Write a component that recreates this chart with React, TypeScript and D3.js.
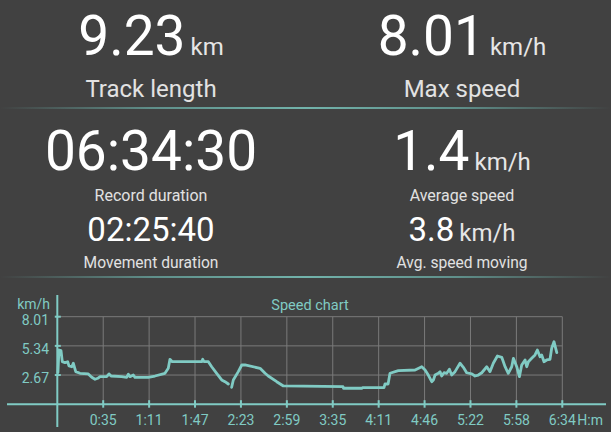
import React, { useEffect } from 'react';
import * as d3 from 'd3';

// ---- Data ----
const minutes = [
  0.5, 1.3, 2.9, 3.9, 6.0, 8.1, 9.1, 11.3, 12.5, 14.4, 17.7, 24.2, 26.9, 29.5, 31.6, 33.4, 38.6, 40.4, 42.0,
  50.3, 54.2, 55.5, 56.8, 59.4, 60.7, 71.1, 76.3, 84.1, 86.7, 88.0, 89.8, 112.8, 113.6, 114.6, 118.0, 120.6,
  124.5, 128.4, 131.0, 133.6, 134.9, 136.2, 137.5, 141.4, 144.1, 146.6, 158.4, 162.3, 164.8, 171.4, 176.6,
  223.2, 223.6, 238.0, 238.4, 255.2, 256.0, 258.4, 259.9, 266.4, 279.5, 284.7, 287.3, 289.8, 292.5, 293.8,
  295.1, 297.7, 299.0, 300.3, 302.1, 304.2, 306.3, 308.1, 310.7, 314.6, 317.2, 319.8, 323.8, 326.3, 328.9,
  331.6, 335.5, 338.0, 340.6, 343.8, 347.2, 349.8, 352.3, 355.0, 356.3, 358.9, 361.0, 362.8, 365.4, 366.7,
  368.0, 370.6, 373.2, 375.0, 377.1, 378.4, 380.2, 382.3, 384.9, 386.2, 388.0, 390.2,
];
const speeds: (number | null)[] = [
  2.9, 4.96, 4.9, 3.89, 3.8, 3.89, 3.5, 3.43, 3.75, 2.98, 2.83, 2.77, 2.46, 2.28, 2.37, 2.52, 2.52, 2.77, 2.58,
  2.52, 2.46, 2.74, 2.52, 2.67, 2.46, 2.46, 2.58, 2.83, 3.29, 4.11, 3.89, 3.89, 4.11, 3.89, 3.89, 3.43,
  2.83, 2.22, 2.06, 1.85, null, 1.55, 2.22, 2.98, 3.59, 3.59, 3.29, 2.83, 2.58, 2.06, 1.67,
  1.6, 1.46, 1.46, 1.51, 1.51, 1.85, 1.85, 2.83, 3.07, 3.13, 3.43, 3.13, 2.67, 2.06, 2.22,
  2.67, 2.83, 2.98, 2.58, 2.88, 2.83, 3.2, 2.67, 2.98, 3.75, 3.38, 2.88, 2.77, 2.58, 2.67,
  2.88, 3.43, 2.98, 3.75, 4.41, 4.29, 3.43, 2.83, 3.43, 4.2, 3.43, 2.52, 3.59, 4.05, 3.43,
  3.89, 4.2, 4.51, 4.96, 4.35, 4.51, 3.89, 4.05, 4.11, 5.12, 5.72, 4.72,
];
const xTickLabels = ['0:35', '1:11', '1:47', '2:23', '2:59', '3:35', '4:11', '4:46', '5:22', '5:58', '6:34'];
const xTickMinutes = [35.86, 71.73, 107.59, 143.45, 179.32, 215.18, 251.05, 286.91, 322.77, 358.64, 394.5];
const yTickValues = [2.67, 5.34, 8.01];
const yTickLabels = ['2.67', '5.34', '8.01'];

const statValues = ['9.23', '8.01', '06:34:30', '1.4', '02:25:40', '3.8'];
const statUnits = ['km', 'km/h', '', 'km/h', '', 'km/h'];
const statLabels = ['Track length', 'Max speed', 'Record duration', 'Average speed', 'Movement duration', 'Avg. speed moving'];

// ---- Style ----
const W = 611;
const H = 432;
const BG = '#414141';
const TEAL = '#80cbc4';
const GRID = '#7a7a7a';
const FONT = 'Roboto, sans-serif';

const colX = [151, 462];
const rows = [
  { vy: 55, vs: 55, us: 24, ly: 97, ls: 24 },
  { vy: 169.5, vs: 55, us: 24, ly: 201, ls: 16 },
  { vy: 241, vs: 33, us: 24, ly: 268, ls: 15.6 },
];

export default function App() {
  useEffect(() => {
    document.body.style.margin = '0';
    document.body.style.background = BG;
  }, []);

  const x = d3.scaleLinear().domain([0, 394.5]).range([57.3, 562.3]);
  const y = d3.scaleLinear().domain([0, 8.01]).range([404.2, 316.7]);

  const pts: [number, number | null][] = minutes.map((m, i) => [m, speeds[i]]);
  const line = d3
    .line<[number, number | null]>()
    .defined((d) => d[1] != null)
    .x((d) => x(d[0]))
    .y((d) => y(d[1] as number));

  const x0 = x(0);
  const xEnd = x(394.5);
  const yTop = y(8.01);
  const yBase = y(0);

  return (
    <svg width={W} height={H} style={{ position: 'fixed', left: 0, top: 0, display: 'block' }} fontFamily={FONT}>
      <defs>
        <linearGradient id="sep" x1="0" x2="1" y1="0" y2="0">
          <stop offset="0%" stopColor={BG} />
          <stop offset="25%" stopColor="#5f8f8a" />
          <stop offset="50%" stopColor="#72b3ab" />
          <stop offset="75%" stopColor="#5f8f8a" />
          <stop offset="100%" stopColor={BG} />
        </linearGradient>
      </defs>
      <rect width={W} height={H} fill={BG} />

      {statValues.map((v, i) => {
        const r = rows[Math.floor(i / 2)];
        const cx = colX[i % 2];
        return (
          <g key={i}>
            <text x={cx} y={r.vy} textAnchor="middle" fill="#ffffff">
              <tspan fontSize={r.vs}>{v}</tspan>
              {statUnits[i] ? (
                <tspan fontSize={r.us} dx={5} fill="#e6e6e6">
                  {statUnits[i]}
                </tspan>
              ) : null}
            </text>
            <text x={cx} y={r.ly} textAnchor="middle" fontSize={r.ls} fill="#e2e2e2">
              {statLabels[i]}
            </text>
          </g>
        );
      })}
      <rect x={0} y={107} width={W} height={2} fill="url(#sep)" />
      <rect x={0} y={276} width={W} height={2} fill="url(#sep)" />

      {yTickValues.map((v, i) => (
        <line key={'hg' + i} x1={x0} x2={xEnd} y1={y(v)} y2={y(v)} stroke={GRID} strokeWidth={1} />
      ))}
      {xTickMinutes.map((m, i) => (
        <line key={'vg' + i} x1={x(m)} x2={x(m)} y1={yTop} y2={yBase} stroke={GRID} strokeWidth={1} />
      ))}

      <path d={line(pts) || ''} fill="none" stroke={TEAL} strokeWidth={2.8} strokeLinejoin="round" strokeLinecap="round" />

      <line x1={x0} x2={x0} y1={295} y2={427} stroke={TEAL} strokeWidth={2} />
      <line x1={7} x2={606} y1={yBase} y2={yBase} stroke={TEAL} strokeWidth={2} />
      {xTickMinutes.map((m, i) => (
        <line key={'xt' + i} x1={x(m)} x2={x(m)} y1={yBase - 4} y2={yBase + 3.5} stroke={TEAL} strokeWidth={2} />
      ))}
      {yTickValues.map((v, i) => (
        <line key={'yt' + i} x1={x0 - 2.5} x2={x0 + 3.5} y1={y(v)} y2={y(v)} stroke={TEAL} strokeWidth={2} />
      ))}

      {yTickValues.map((v, i) => (
        <text key={'yl' + i} x={49} y={y(v) + 8} textAnchor="end" fontSize={14} fill={TEAL}>
          {yTickLabels[i]}
        </text>
      ))}
      {xTickMinutes.map((m, i) => (
        <text key={'xl' + i} x={x(m)} y={425} textAnchor="middle" fontSize={14} fill={TEAL}>
          {xTickLabels[i]}
        </text>
      ))}
      <text x={603} y={425} textAnchor="end" fontSize={14} fill={TEAL}>
        H:m
      </text>
      <text x={50} y={308.5} textAnchor="end" fontSize={14} fill={TEAL}>
        km/h
      </text>
      <text x={310} y={309.5} textAnchor="middle" fontSize={14.5} fill={TEAL}>
        Speed chart
      </text>
    </svg>
  );
}
